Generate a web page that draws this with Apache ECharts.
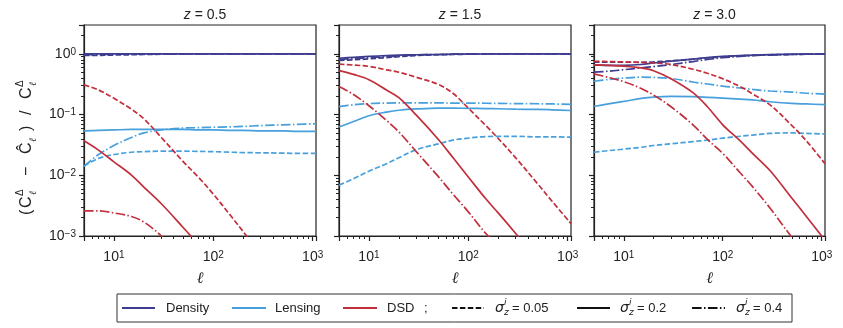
<!DOCTYPE html>
<html>
<head>
<meta charset="utf-8">
<script src="https://cdn.jsdelivr.net/npm/echarts@6/dist/echarts.min.js"></script>
<style>
html, body { margin: 0; background: #fff; }
#chart { width: 843px; height: 328px; }
</style>
</head>
<body>
<div id="chart"></div>
<script>
// multipole grid shared by every curve
const ell = [5, 7, 10, 15, 20, 30, 50, 70, 100, 150, 200, 300, 500, 700, 1080];

// z = 0.5
const z05_density_005 = [0.95, 0.95, 0.96, 0.97, 0.98, 0.99, 1, 1, 1, 1, 1, 1, 1, 1, 1];
const z05_density_02 = [1, 1, 1, 1, 1, 1, 1, 1, 1, 1, 1, 1, 1, 1, 1];
const z05_density_04 = [0.97, 0.98, 0.99, 1, 1, 1, 1, 1, 1, 1, 1, 1, 1, 1, 1];
const z05_lensing_005 = [0.0143, 0.019, 0.022, 0.024, 0.0245, 0.025, 0.025, 0.0248, 0.0245, 0.024, 0.0237, 0.0235, 0.0232, 0.023, 0.023];
const z05_lensing_02 = [0.054, 0.055, 0.056, 0.057, 0.057, 0.057, 0.057, 0.056, 0.056, 0.055, 0.055, 0.054, 0.054, 0.053, 0.053];
const z05_lensing_04 = [0.014, 0.022, 0.031, 0.042, 0.05, 0.056, 0.06, 0.061, 0.062, 0.063, 0.064, 0.066, 0.068, 0.069, 0.071];
const z05_dsd_005 = [0.31, 0.255, 0.186, 0.123, 0.0855, 0.042, 0.0167, 0.0095, 0.0049, 0.00215, 0.00118, 0.0005, null, null, null];
const z05_dsd_02 = [0.037, 0.026, 0.0167, 0.0101, 0.0064, 0.0034, 0.00137, 0.00074, null, null, null, null, null, null, null];
const z05_dsd_04 = [0.0026, 0.0026, 0.0024, 0.0021, 0.0017, 0.001, 0.0004, null, null, null, null, null, null, null, null];

// z = 1.5
const z15_density_005 = [0.78, 0.8, 0.83, 0.87, 0.9, 0.94, 0.97, 0.98, 0.99, 1, 1, 1, 1, 1, 1];
const z15_density_02 = [0.85, 0.88, 0.91, 0.94, 0.955, 0.97, 0.98, 0.99, 0.995, 1, 1, 1, 1, 1, 1];
const z15_density_04 = [0.81, 0.84, 0.87, 0.9, 0.93, 0.96, 0.98, 0.99, 1, 1, 1, 1, 1, 1, 1];
const z15_lensing_005 = [0.0069, 0.0088, 0.0117, 0.0155, 0.0195, 0.0265, 0.033, 0.038, 0.041, 0.0435, 0.0438, 0.044, 0.043, 0.043, 0.0425];
const z15_lensing_02 = [0.0625, 0.077, 0.096, 0.11, 0.118, 0.124, 0.128, 0.128, 0.127, 0.126, 0.125, 0.123, 0.122, 0.12, 0.117];
const z15_lensing_04 = [0.136, 0.145, 0.152, 0.155, 0.156, 0.156, 0.156, 0.155, 0.155, 0.154, 0.153, 0.152, 0.151, 0.15, 0.148];
const z15_dsd_005 = [0.68, 0.655, 0.625, 0.547, 0.5, 0.413, 0.315, 0.225, 0.128, 0.066, 0.0405, 0.0194, 0.0072, 0.0037, 0.0016];
const z15_dsd_02 = [0.53, 0.46, 0.377, 0.255, 0.19, 0.098, 0.039, 0.0196, 0.0094, 0.0041, 0.0024, 0.0011, 0.0004, null, null];
const z15_dsd_04 = [0.29, 0.215, 0.14, 0.0805, 0.052, 0.0245, 0.0095, 0.0049, 0.0025, 0.0011, 0.0007, null, null, null, null];

// z = 3.0
const z30_density_005 = [0.73, 0.73, 0.73, 0.73, 0.74, 0.77, 0.82, 0.86, 0.9, 0.93, 0.95, 0.97, 0.98, 0.99, 0.99];
const z30_density_02 = [0.66, 0.65, 0.65, 0.67, 0.71, 0.76, 0.82, 0.87, 0.91, 0.94, 0.96, 0.975, 0.99, 0.995, 1.0];
const z30_density_04 = [0.5, 0.52, 0.55, 0.59, 0.62, 0.67, 0.75, 0.81, 0.87, 0.91, 0.94, 0.96, 0.98, 0.99, 1.0];
const z30_lensing_005 = [0.024, 0.0255, 0.027, 0.029, 0.031, 0.033, 0.036, 0.038, 0.041, 0.044, 0.046, 0.049, 0.05, 0.049, 0.048];
const z30_lensing_02 = [0.136, 0.15, 0.165, 0.185, 0.195, 0.2, 0.198, 0.193, 0.187, 0.18, 0.175, 0.163, 0.153, 0.15, 0.146];
const z30_lensing_04 = [0.355, 0.38, 0.4, 0.415, 0.41, 0.395, 0.345, 0.32, 0.295, 0.275, 0.26, 0.245, 0.235, 0.225, 0.218];
const z30_dsd_005 = [0.755, 0.75, 0.74, 0.725, 0.71, 0.67, 0.56, 0.48, 0.39, 0.29, 0.22, 0.145, 0.066, 0.037, 0.0155];
const z30_dsd_02 = [0.66, 0.65, 0.63, 0.59, 0.53, 0.39, 0.23, 0.135, 0.068, 0.037, 0.023, 0.012, 0.0042, 0.0021, 0.00085];
const z30_dsd_04 = [0.47, 0.41, 0.35, 0.27, 0.21, 0.135, 0.068, 0.039, 0.023, 0.011, 0.0065, 0.0029, 0.00095, 0.0005, null];

const panelTitles = ['0.5', '1.5', '3.0'];

const FONT = 'Liberation Sans, Arial, sans-serif';
const INK = '#222';
const DENS = '#3e3c8e', LENS = '#47a0dc', DSD = '#c22f3c';
const DASH = {s005: [5.5, 2.4], s02: 'solid', s04: [9.6, 2.4, 1.5, 2.4]};
const X_MIN = 5, X_MAX = 1080, Y_MIN = 0.001, Y_MAX = 3;

const panels = [
  {dens: [z05_density_005, z05_density_02, z05_density_04], lens: [z05_lensing_005, z05_lensing_02, z05_lensing_04], dsd: [z05_dsd_005, z05_dsd_02, z05_dsd_04]},
  {dens: [z15_density_005, z15_density_02, z15_density_04], lens: [z15_lensing_005, z15_lensing_02, z15_lensing_04], dsd: [z15_dsd_005, z15_dsd_02, z15_dsd_04]},
  {dens: [z30_density_005, z30_density_02, z30_density_04], lens: [z30_lensing_005, z30_lensing_02, z30_lensing_04], dsd: [z30_dsd_005, z30_dsd_02, z30_dsd_04]}
];
const gridLeft = [84, 339, 594];
const gridWidth = [232, 232, 231];

function pow10Label(v) {
  const e = Math.round(Math.log10(v));
  if (Math.abs(Math.log10(v) - e) > 1e-6) return '';
  return '10{sup|' + (e < 0 ? '\u2212' + (-e) : e) + '}';
}
function labelRich() {
  return {sup: {fontSize: 10, fontFamily: FONT, color: INK, verticalAlign: 'top', lineHeight: 10, padding: [0, 0, 6, 0]}};
}
// fresh objects per axis: log ticks at 10^k, minor ticks at 2..9 x 10^k
function tickStyle() {
  return {
    axisLine: {show: true, lineStyle: {color: INK, width: 1.2}},
    axisTick: {show: true, inside: false, length: 5, lineStyle: {color: INK, width: 1.2}},
    minorTick: {show: true, splitNumber: 9, length: 3, lineStyle: {color: INK, width: 1}},
    splitLine: {show: false}, minorSplitLine: {show: false}
  };
}

const grid = [], xAxis = [], yAxis = [], series = [], title = [];
const dashKeys = ['s005', 's02', 's04'];

panels.forEach((p, i) => {
  grid.push({left: gridLeft[i], width: gridWidth[i], top: 25, height: 211,
    show: true, borderColor: INK, borderWidth: 1.2});
  xAxis.push(Object.assign({type: 'log', gridIndex: i, min: X_MIN, max: X_MAX,
    axisLabel: {formatter: pow10Label, color: INK, fontSize: 14, fontFamily: FONT, margin: 14, rich: labelRich()},
    name: '\u2113', nameLocation: 'middle', nameGap: 35,
    nameTextStyle: {fontStyle: 'italic', fontSize: 16, fontFamily: 'DejaVu Serif, serif', color: INK}}, tickStyle()));
  yAxis.push(Object.assign({type: 'log', gridIndex: i, min: Y_MIN, max: Y_MAX,
    axisLabel: {show: i === 0, formatter: pow10Label, color: INK, fontSize: 14, fontFamily: FONT, margin: 8, rich: labelRich()}}, tickStyle()));
  title.push({text: '{i|z} = ' + panelTitles[i], left: gridLeft[i] + gridWidth[i] / 2, top: 3, textAlign: 'center',
    textStyle: {fontSize: 14, fontWeight: 'normal', color: INK, fontFamily: FONT,
      rich: {i: {fontStyle: 'italic', fontSize: 14, fontFamily: FONT, color: INK}}}});

  const groups = [[p.dens, DENS], [p.lens, LENS], [p.dsd, DSD]];
  groups.forEach(([arrs, color]) => {
    arrs.forEach((arr, k) => {
      const dash = DASH[dashKeys[k]];
      series.push({
        type: 'line', xAxisIndex: i, yAxisIndex: i, showSymbol: false,
        smooth: 0.35,
        data: ell.map((l, j) => [l, arr[j]]).filter(d => d[1] != null),
        lineStyle: {color: color, width: 1.7, type: Array.isArray(dash) ? dash.slice() : dash}
      });
    });
  });
});

// rotated y-axis label built from pieces so scripts can stack
function t(text, x, y, size) {
  return {type: 'text', x: x, y: y,
    style: {text: text, fill: INK, fontSize: size, fontFamily: FONT,
      textAlign: 'left', textVerticalAlign: 'middle', align: 'left', verticalAlign: 'middle'}};
}
function ellSub(x, y) {
  return {type: 'text', x: x, y: y, style: {text: '\u2113', fill: INK, fontSize: 10, fontStyle: 'italic',
    fontFamily: 'DejaVu Serif, serif', textAlign: 'left', align: 'left', textVerticalAlign: 'middle', verticalAlign: 'middle'}};
}
const yLabel = {
  type: 'group', x: 27, y: 215, rotation: Math.PI / 2,
  children: [
    t('(', 0, 0, 16), t('C', 7, 0, 16),
    t('\u0394', 19, -7, 10), ellSub(20, 6),
    t('\u2212', 39, 0, 16),
    t('\u0108', 61, 0, 16),
    ellSub(73, 6),
    t(')', 84, 0, 16),
    t('/', 100, 0, 16),
    t('C', 116, 0, 16),
    t('\u0394', 128, -7, 10), ellSub(129, 6)
  ]
};

// legend box
const LY = 308;
function legLine(x1, x2, color, dash) {
  const style = {stroke: color, lineWidth: 1.8};
  if (dash !== 'solid') style.lineDash = dash.slice();
  return {type: 'line', shape: {x1: x1, y1: LY, x2: x2, y2: LY}, style: style};
}
function legText(text, x) {
  return {type: 'text', x: x, y: LY, style: {text: text, fill: INK, fontSize: 13, fontFamily: FONT,
    textAlign: 'left', textVerticalAlign: 'middle', align: 'left', verticalAlign: 'middle'}};
}
function sigmaText(x, val) {
  const st = () => ({fill: INK, fontStyle: 'italic', fontFamily: 'DejaVu Sans, sans-serif', verticalAlign: 'middle', textVerticalAlign: 'middle'});
  return [
    {type: 'text', x: x, y: LY, style: Object.assign({text: '\u03c3', fontSize: 14}, st())},
    {type: 'text', x: x + 9, y: LY - 5, style: Object.assign({text: 'i', fontSize: 9}, st())},
    {type: 'text', x: x + 9, y: LY + 5, style: Object.assign({text: 'z', fontSize: 9}, st())},
    legText('= ' + val, x + 17)
  ];
}
const legend = {
  type: 'group',
  children: [
    {type: 'rect', shape: {x: 117, y: 294, width: 675, height: 28}, style: {fill: '#fff', stroke: '#333', lineWidth: 1}},
    legLine(122, 155, DENS, 'solid'), legText('Density', 166),
    legLine(232, 266, LENS, 'solid'), legText('Lensing', 275),
    legLine(343, 377, DSD, 'solid'), legText('DSD', 387), legText(';', 424),
    legLine(452, 484, '#111', DASH.s005), ...sigmaText(495, '0.05'),
    legLine(577, 610, '#111', 'solid'), ...sigmaText(620, '0.2'),
    legLine(692, 725, '#111', DASH.s04), ...sigmaText(736, '0.4')
  ]
};

const chart = echarts.init(document.getElementById('chart'));
chart.setOption({
  animation: false,
  title: title,
  grid: grid,
  xAxis: xAxis,
  yAxis: yAxis,
  series: series,
  graphic: [yLabel, legend]
});
</script>
</body>
</html>
